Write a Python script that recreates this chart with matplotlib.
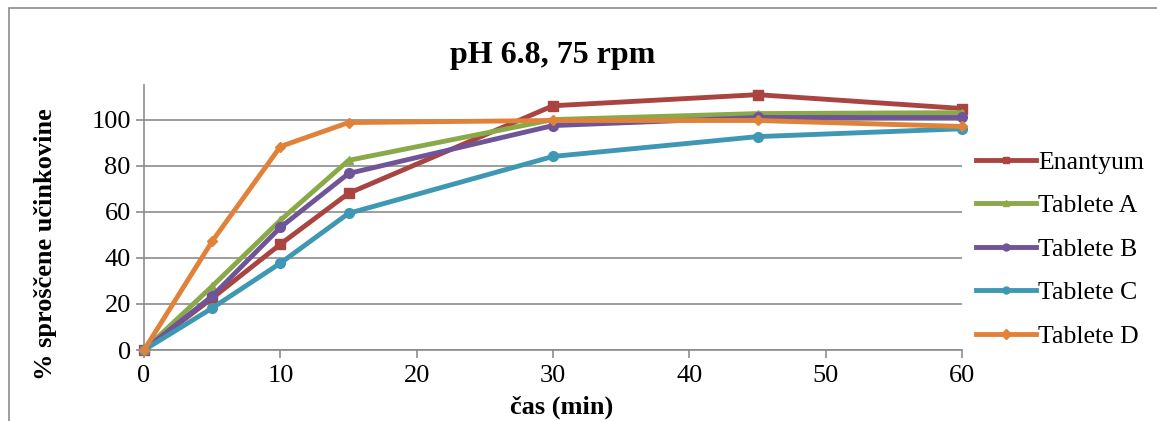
import matplotlib.pyplot as plt
from matplotlib.patches import Rectangle

# time points (min)
cas = [0, 5, 10, 15, 30, 45, 60]

# % released
enantyum = [0, 22.5, 45.9, 68.0, 106.0, 110.8, 104.8]
tablete_a = [0, 27.7, 56.3, 82.3, 100.0, 102.6, 103.0]
tablete_b = [0, 23.4, 53.2, 76.6, 97.4, 100.9, 100.9]
tablete_c = [0, 18.2, 37.7, 59.3, 84.0, 92.6, 96.0]
tablete_d = [0, 47.2, 88.3, 98.7, 99.6, 99.6, 97.0]

names = ['Enantyum', 'Tablete A', 'Tablete B', 'Tablete C', 'Tablete D']
colors = ['#A94441', '#8AAA4A', '#6F5597', '#3E98B4', '#E0823A']
markers = ['s', '^', 'o', 'o', 'D']
msizes = [7, 6, 7, 7, 5]

plt.rcParams['font.family'] = ['Liberation Serif', 'DejaVu Serif']

fig = plt.figure(figsize=(11.57, 4.21), dpi=100)
ax = fig.add_axes([0.1245, 0.1686, 0.707, 0.6295])

# outer chart frame (only top and left visible in the picture)
fig.patches.append(Rectangle((9 / 1157, -0.1), 1.1, 1 - 8 / 421 + 0.1,
                             transform=fig.transFigure, fill=False,
                             edgecolor='#8c8c8c', linewidth=1.2))

series = [enantyum, tablete_a, tablete_b, tablete_c, tablete_d]
for vals, name, c, m, ms in zip(series, names, colors, markers, msizes):
    ax.plot(cas, vals, color=c, linewidth=3.5, marker=m, markersize=ms,
            label=name, clip_on=False, zorder=3)

ax.set_xlim(0, 60)
ax.set_ylim(0, 115)
ax.set_xticks([0, 10, 20, 30, 40, 50, 60])
ax.set_yticks([0, 20, 40, 60, 80, 100])
ax.yaxis.grid(True, color='#8c8c8c', linewidth=1.2)
ax.set_axisbelow(True)
for s in ['top', 'right']:
    ax.spines[s].set_visible(False)
for s in ['left', 'bottom']:
    ax.spines[s].set_color('#8c8c8c')
    ax.spines[s].set_linewidth(1.2)
ax.tick_params(axis='both', colors='#8c8c8c', labelcolor='black',
               labelsize=19, length=6, width=1.2, direction='out')
ax.tick_params(axis='x', pad=5)

ax.set_title('pH 6.8, 75 rpm', fontsize=23, fontweight='bold', pad=16)
ax.set_xlabel('čas (min)', fontsize=19, fontweight='bold')
ax.xaxis.set_label_coords(0.51, -0.215)
ax.xaxis.label.set_verticalalignment('center')
ax.set_ylabel('% sproščene učinkovine', fontsize=19, fontweight='bold')
ax.yaxis.set_label_coords(-0.121, 0.40)
ax.yaxis.label.set_verticalalignment('center')

leg = ax.legend(loc='center left', bbox_to_anchor=(1.005, 0.38), frameon=False,
                fontsize=18.5, handlelength=2.3, handletextpad=0.1,
                labelspacing=0.8, borderaxespad=0)
for h in leg.legend_handles:
    h.set_markersize(5)

plt.savefig('out.png', dpi=100)
